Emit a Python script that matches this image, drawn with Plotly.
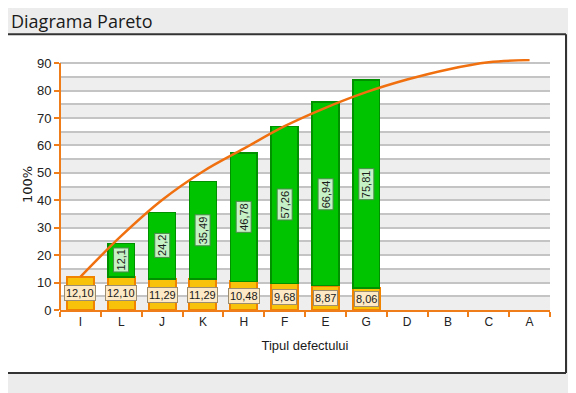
import plotly.graph_objects as go

categories = ["I", "L", "J", "K", "H", "F", "E", "G", "D", "B", "C", "A"]
defect_pct = [12.10, 12.10, 11.29, 11.29, 10.48, 9.68, 8.87, 8.06, None, None, None, None]
prev_cum = [None, 12.1, 24.2, 35.49, 46.78, 57.26, 66.94, 75.81, None, None, None, None]
curve = [12.1, 27.0, 40.1, 50.5, 58.8, 67.0, 73.7, 79.4, 84.0, 87.7, 90.3, 91.1]
y_ticks = [0, 10, 20, 30, 40, 50, 60, 70, 80, 90]

ORANGE = "#ee7d1a"
OFF = 8  # page body margin
W, H = 576 - OFF, 393 - OFF
# plot area in page coordinates: x 60..550, y (0 at 310, 90 at 63)
X0, X1 = 60 - OFF, 550 - OFF
Y0 = 310 - OFF
UNIT = (310 - 63) / 90.0
YMAX = 91.5
YTOP = Y0 - YMAX * UNIT
ML, MR, MT, MB = X0, W - X1, YTOP, H - Y0
PW, PH = X1 - X0, Y0 - YTOP


def px(x):
    return (x - OFF - ML) / PW


def py(y):
    return (H - MB - (y - OFF)) / PH


fig = go.Figure()

fig.add_trace(go.Bar(
    x=categories, y=defect_pct, width=0.66,
    marker=dict(color="#f8c20a", line=dict(color="#f08400", width=2)),
    hoverinfo="skip",
))
fig.add_trace(go.Bar(
    x=categories, y=prev_cum, base=defect_pct, width=0.66,
    marker=dict(color="#00c400", line=dict(color="#009000", width=1.5)),
    hoverinfo="skip",
))
fig.add_trace(go.Scatter(
    x=categories, y=curve, mode="lines", line=dict(color="#f07010", width=2.5, shape="spline"),
    hoverinfo="skip",
))

annotations = []
for c, v, g in zip(categories, defect_pct, prev_cum):
    if v:
        annotations.append(dict(
            x=c, y=v / 2, xref="x", yref="y", text=f"{v:.2f}".replace(".", ","),
            showarrow=False, bgcolor="#fde9c6", bordercolor="#9c8c70", borderwidth=1, borderpad=1,
            font=dict(family="Liberation Sans", size=11, color="#1a1a1a"),
        ))
    if g:
        annotations.append(dict(
            x=c, y=v + g / 2, xref="x", yref="y", text=f"{g:g}".replace(".", ","),
            showarrow=False, textangle=-90, bgcolor="#c6f0c6", bordercolor="#4a8a4a", borderwidth=1,
            borderpad=1, font=dict(family="Liberation Sans", size=11, color="#1a1a1a"),
        ))

annotations.append(dict(
    x=px(10), y=py(8), xref="paper", yref="paper", xanchor="left", yanchor="top",
    text="Diagrama Pareto", showarrow=False, borderpad=0,
    font=dict(family="Open Sans", size=18, color="#1a1a1a"),
))

RIGHT = 566
shapes = [dict(
    type="rect", xref="paper", yref="paper", x0=px(2), x1=px(RIGHT), y0=py(373), y1=py(34),
    fillcolor="white", line=dict(width=0), layer="below",
)]
for lo in range(0, 90, 10):
    shapes.append(dict(
        type="rect", xref="paper", yref="y", x0=0, x1=1, y0=lo, y1=lo + 5,
        fillcolor="#eeeeee", line=dict(width=0), layer="below",
    ))
# panel border
for (xa, ya, xb, yb) in [(2, 34, RIGHT, 34), (RIGHT, 34, RIGHT, 373), (2, 373, RIGHT, 373)]:
    shapes.append(dict(
        type="line", xref="paper", yref="paper", x0=px(xa), x1=px(xb), y0=py(ya), y1=py(yb),
        line=dict(color="#333333", width=2), layer="above",
    ))
# y axis line only up to the top tick
shapes.append(dict(
    type="line", xref="paper", yref="y", x0=0, x1=0, y0=0, y1=y_ticks[-1],
    line=dict(color=ORANGE, width=2), layer="above",
))

fig.update_layout(
    width=W, height=H, margin=dict(l=ML, r=MR, t=MT, b=MB, autoexpand=False),
    paper_bgcolor="#ececec", plot_bgcolor="white",
    barmode="stack", bargap=0.34, showlegend=False,
    annotations=annotations, shapes=shapes,
    xaxis=dict(
        type="category", categoryorder="array", categoryarray=categories,
        range=[-0.5, 11.5], showline=True, linecolor=ORANGE, linewidth=2,
        ticks="outside", tickson="boundaries", ticklen=5, tickcolor=ORANGE, tickwidth=1.5,
        showgrid=False, tickfont=dict(family="Liberation Sans", size=12, color="#222"),
        title=dict(text="Tipul defectului", font=dict(family="Liberation Sans", size=13, color="#1a1a1a"),
                   standoff=12),
    ),
    yaxis=dict(
        range=[0, YMAX], tickvals=y_ticks, showline=False,
        ticks="outside", ticklen=5, tickcolor=ORANGE, tickwidth=1.5,
        showgrid=True, gridcolor="#c4c4c4", gridwidth=1.5, zeroline=False,
        minor=dict(tickvals=[5, 15, 25, 35, 45, 55, 65, 75, 85], showgrid=True,
                   gridcolor="#c4c4c4", gridwidth=1.5, ticks=""),
        tickfont=dict(family="Liberation Sans Narrow, Liberation Sans", size=13, color="#222"),
        title=dict(text="100%", font=dict(family="DejaVu Sans", size=13, color="#1a1a1a"), standoff=1),
    ),
)

fig.write_html("out.html")
